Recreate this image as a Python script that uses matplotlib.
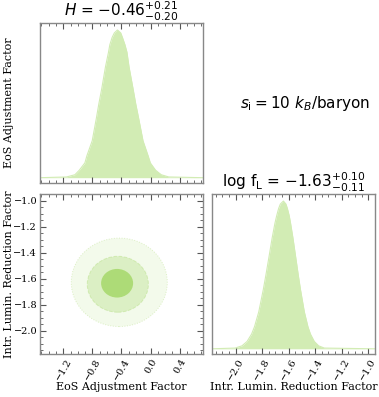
"""
Corner plot: EoS adjustment factor vs intrinsic luminosity reduction factor.
"""

import matplotlib.pyplot as plt
from matplotlib.patches import Ellipse
from matplotlib.ticker import MultipleLocator

# 1D marginal of H (peak-normalised density)
h_grid = [-1.52, -1.155, -1.04, -0.981, -0.903, -0.874, -0.802, -0.746, -0.711, -0.672,
          -0.62, -0.578, -0.56, -0.528, -0.498, -0.455, -0.41, -0.387, -0.352, -0.325,
          -0.296, -0.24, -0.204, -0.163, -0.104, -0.035, -0.003, 0.07, 0.147, 0.25, 0.72]
h_density = [0.0, 0.005, 0.02, 0.05, 0.10, 0.15, 0.25, 0.40, 0.50, 0.60,
             0.75, 0.85, 0.90, 0.95, 0.98, 1.0, 0.98, 0.95, 0.90, 0.85,
             0.75, 0.60, 0.50, 0.40, 0.25, 0.15, 0.10, 0.05, 0.02, 0.005, 0.0]

# 1D marginal of log f_L
f_grid = [-2.18, -2.005, -1.953, -1.914, -1.880, -1.858, -1.826, -1.792, -1.772, -1.753,
          -1.725, -1.704, -1.691, -1.676, -1.663, -1.640, -1.621, -1.610, -1.596, -1.586,
          -1.568, -1.544, -1.528, -1.511, -1.482, -1.455, -1.436, -1.407, -1.374, -1.331, -0.95]
f_density = [0.0, 0.005, 0.02, 0.05, 0.10, 0.15, 0.25, 0.40, 0.50, 0.60,
             0.75, 0.85, 0.90, 0.95, 0.98, 1.0, 0.98, 0.95, 0.90, 0.85,
             0.75, 0.60, 0.50, 0.40, 0.25, 0.15, 0.10, 0.05, 0.02, 0.005, 0.0]

# 2D credible regions (centre and full widths, inner to outer)
level_cx = [-0.46, -0.45, -0.43]
level_cy = [-1.635, -1.643, -1.628]
level_w = [0.44, 0.84, 1.32]
level_h = [0.22, 0.43, 0.68]
level_alpha = [0.85, 0.30, 0.13]
level_ls = ['-', '--', ':']

h_title = r'$H$ = $-0.46^{+0.21}_{-0.20}$'
f_title = r'log f$_\mathrm{L}$ = $-1.63^{+0.10}_{-0.11}$'
label_h = 'EoS Adjustment Factor'
label_f = 'Intr. Lumin. Reduction Factor'

green = '#a6d96a'
fill_green = '#d2ecb4'
h_lim = (-1.52, 0.72)
f_lim = (-2.18, -0.95)

fig = plt.figure(figsize=(3.79, 3.97), dpi=100)
ax_h = fig.add_axes([0.1055, 0.539, 0.430, 0.403])
ax_2d = fig.add_axes([0.1055, 0.108, 0.430, 0.403])
ax_f = fig.add_axes([0.559, 0.108, 0.430, 0.403])


def style(ax):
    for sp in ax.spines.values():
        sp.set_color('#888888')
        sp.set_linewidth(1.0)
    ax.tick_params(which='both', direction='in', top=True, right=True,
                   color='#555555', labelsize=7, pad=2)
    ax.tick_params(which='major', length=4, width=0.8)
    ax.tick_params(which='minor', length=2, width=0.6)
    for lab in ax.get_xticklabels() + ax.get_yticklabels():
        lab.set_family('DejaVu Serif')


# top-left marginal
ax_h.fill_between(h_grid, 0, h_density, color=fill_green, lw=0)
ax_h.plot(h_grid, h_density, color=fill_green, lw=0.8)
ax_h.set_xlim(*h_lim)
ax_h.set_ylim(-0.036, 1.047)
ax_h.xaxis.set_major_locator(MultipleLocator(0.4))
ax_h.xaxis.set_minor_locator(MultipleLocator(0.1))
ax_h.set_yticks([])
ax_h.tick_params(labelbottom=False)
style(ax_h)
ax_h.tick_params(left=False, right=False)
ax_h.set_ylabel(label_h, family='DejaVu Serif', fontsize=8, va='center')
ax_h.yaxis.set_label_coords(-0.19, 0.5)
ax_h.set_title(h_title, fontsize=11, pad=3)

# bottom-left joint
for cx, cy, w, h, a, ls in zip(level_cx, level_cy, level_w, level_h, level_alpha, level_ls):
    ax_2d.add_patch(Ellipse((cx, cy), w, h, facecolor=green, alpha=a, lw=0, zorder=3 - a))
    if ls != '-':
        ax_2d.add_patch(Ellipse((cx, cy), w, h, facecolor='none', edgecolor=green,
                                alpha=0.35, lw=0.7, ls=ls, zorder=3))
ax_2d.set_xlim(*h_lim)
ax_2d.set_ylim(*f_lim)
ax_2d.xaxis.set_major_locator(MultipleLocator(0.4))
ax_2d.xaxis.set_minor_locator(MultipleLocator(0.1))
ax_2d.yaxis.set_major_locator(MultipleLocator(0.2))
ax_2d.yaxis.set_minor_locator(MultipleLocator(0.05))
style(ax_2d)
plt.setp(ax_2d.get_xticklabels(), rotation=60, ha='center')
ax_2d.set_xlabel(label_h, family='DejaVu Serif', fontsize=8, va='center')
ax_2d.xaxis.set_label_coords(0.5, -0.206)
ax_2d.set_ylabel(label_f, family='DejaVu Serif', fontsize=8, va='center')
ax_2d.yaxis.set_label_coords(-0.19, 0.5)

# bottom-right marginal
ax_f.fill_between(f_grid, 0, f_density, color=fill_green, lw=0)
ax_f.plot(f_grid, f_density, color=fill_green, lw=0.8)
ax_f.set_xlim(*f_lim)
ax_f.set_ylim(-0.036, 1.047)
ax_f.xaxis.set_major_locator(MultipleLocator(0.2))
ax_f.xaxis.set_minor_locator(MultipleLocator(0.05))
ax_f.set_yticks([])
style(ax_f)
ax_f.tick_params(left=False, right=False)
plt.setp(ax_f.get_xticklabels(), rotation=60, ha='center')
ax_f.set_xlabel(label_f, family='DejaVu Serif', fontsize=8, va='center')
ax_f.xaxis.set_label_coords(0.5, -0.206)
ax_f.set_title(f_title, fontsize=11, pad=3)

fig.text(0.805, 0.74, r'$s_\mathrm{i} = 10\ k_B$/baryon', fontsize=11,
         ha='center', va='center')

fig.savefig('out.png', dpi=100)
